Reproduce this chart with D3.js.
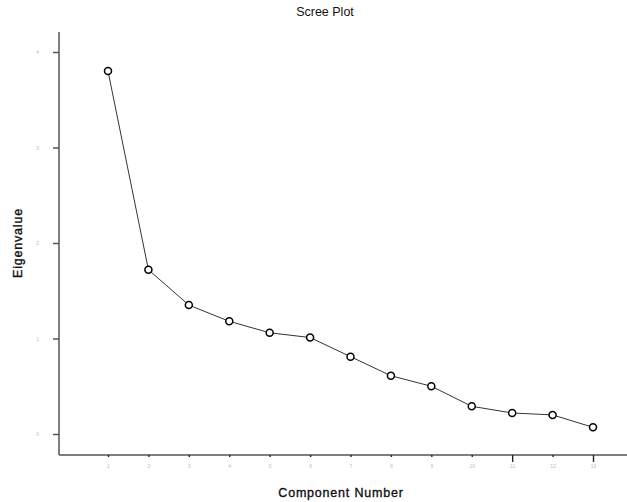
<!DOCTYPE html>
<html>
<head>
<meta charset="utf-8">
<script src="https://cdn.jsdelivr.net/npm/d3@7"></script>
<style>
  body { margin: 0; background: #fff; }
  text { font-family: "Liberation Sans", Arial, sans-serif; }
</style>
</head>
<body>
<div id="chart"></div>
<script>
// scree plot data
const components = [1, 2, 3, 4, 5, 6, 7, 8, 9, 10, 11, 12, 13];
const eigenvalues = [3.80, 1.72, 1.35, 1.18, 1.06, 1.01, 0.81, 0.61, 0.50, 0.29, 0.22, 0.20, 0.07];
const yTicks = [0, 1, 2, 3, 4];

const width = 627, height = 502;
const svg = d3.select("#chart")
  .append("svg")
    .attr("width", width)
    .attr("height", height);

const x = d3.scaleLinear()
  .domain([1, 13])
  .range([108, 593]);

const y = d3.scaleLinear()
  .domain([0, 4])
  .range([434, 52]);

// axis lines
svg.append("line")
  .attr("x1", 59).attr("x2", 59)
  .attr("y1", 32).attr("y2", 455)
  .attr("stroke", "#555").attr("stroke-width", 1.5);
svg.append("line")
  .attr("x1", 59).attr("x2", 627)
  .attr("y1", 455).attr("y2", 455)
  .attr("stroke", "#555").attr("stroke-width", 1.5);

// y axis ticks (labels are faint specks in the original)
const yAxis = d3.axisLeft(y)
  .tickValues(yTicks)
  .tickSize(6)
  .tickPadding(14)
  .tickFormat(d3.format("d"));
const gy = svg.append("g")
  .attr("transform", "translate(59,0)")
  .call(yAxis);
gy.select(".domain").remove();
gy.selectAll(".tick line").attr("stroke", "#555").attr("stroke-width", 1.5);
gy.selectAll(".tick text").attr("fill", "#bbb").attr("font-size", 5);

// x axis ticks
const xAxis = d3.axisBottom(x)
  .tickValues(components)
  .tickSize(3)
  .tickPadding(6)
  .tickFormat(d3.format("d"));
const gx = svg.append("g")
  .attr("transform", "translate(0,455)")
  .call(xAxis);
gx.select(".domain").remove();
gx.selectAll(".tick line")
  .attr("stroke", "#222")
  .attr("stroke-width", 1.4)
  .attr("y2", d => (d === 11 || d === 13) ? 7 : 2);
gx.selectAll(".tick text").attr("fill", "#bbb").attr("font-size", 5);

// line
const line = d3.line()
  .x((d, i) => x(components[i]))
  .y(d => y(d));

svg.append("path")
  .datum(eigenvalues)
  .attr("fill", "none")
  .attr("stroke", "#333")
  .attr("stroke-width", 1)
  .attr("d", line);

// markers
svg.selectAll("circle.pt")
  .data(eigenvalues)
  .join("circle")
    .attr("class", "pt")
    .attr("cx", (d, i) => x(components[i]))
    .attr("cy", d => y(d))
    .attr("r", 3.5)
    .attr("fill", "#fff")
    .attr("stroke", "#000")
    .attr("stroke-width", 1.5);

// titles
svg.append("text")
  .attr("x", 325).attr("y", 16)
  .attr("text-anchor", "middle")
  .attr("font-size", 12.5)
  .attr("fill", "#111")
  .text("Scree Plot");

svg.append("text")
  .attr("x", 341).attr("y", 497)
  .attr("text-anchor", "middle")
  .attr("font-size", 12.5)
  .attr("fill", "#111")
  .attr("stroke", "#111")
  .attr("stroke-width", 0.35)
  .attr("letter-spacing", 0.8)
  .text("Component Number");

svg.append("text")
  .attr("transform", "translate(22,243) rotate(-90)")
  .attr("text-anchor", "middle")
  .attr("font-size", 12.5)
  .attr("fill", "#111")
  .attr("stroke", "#111")
  .attr("stroke-width", 0.35)
  .attr("letter-spacing", 0.8)
  .text("Eigenvalue");
</script>
</body>
</html>
